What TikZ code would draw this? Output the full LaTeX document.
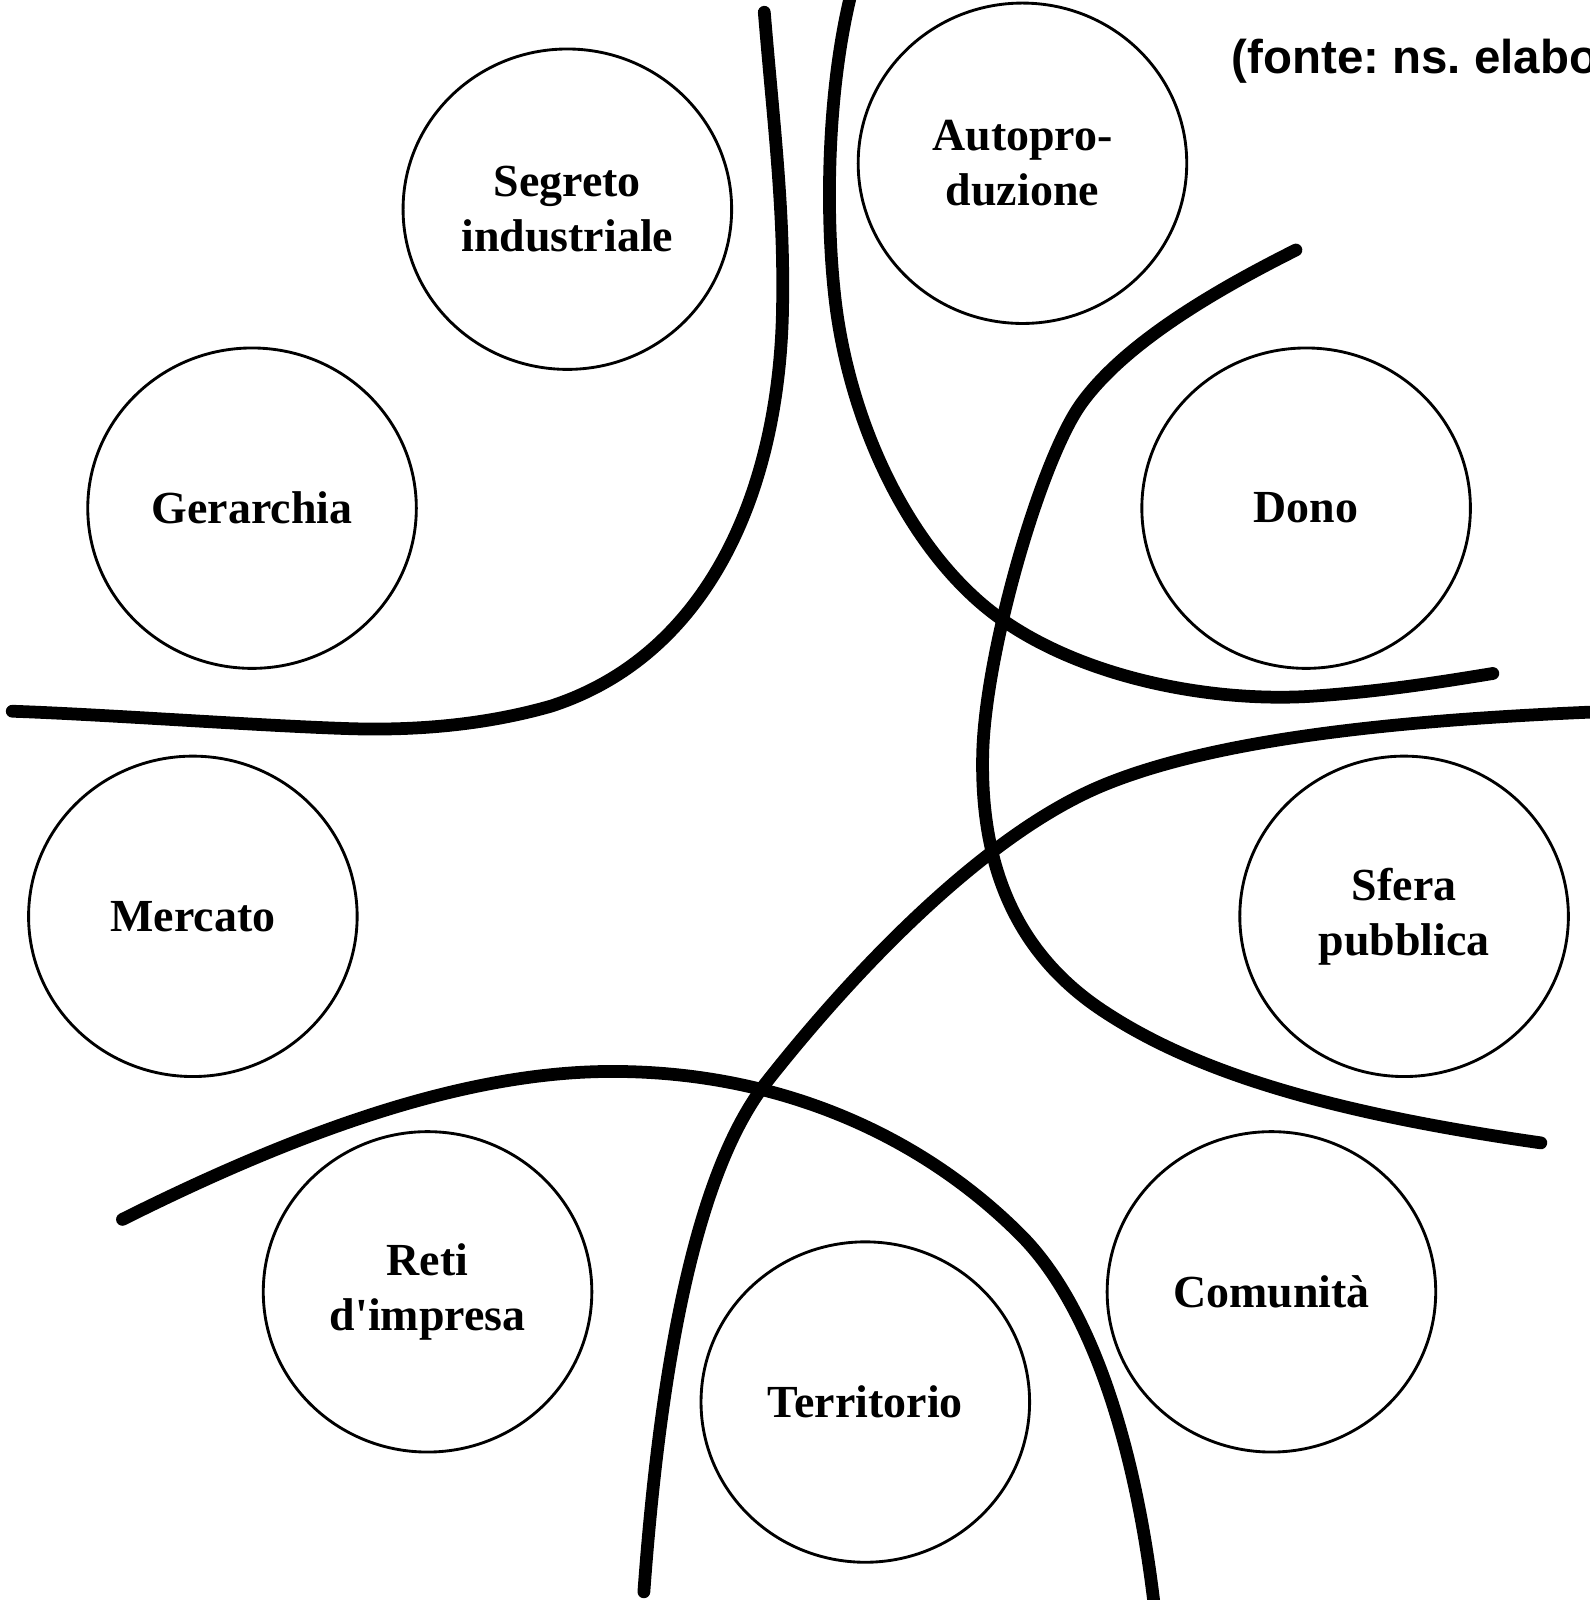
\documentclass[tikz,border=0pt]{standalone}
\usepackage{fontspec}
\setmainfont{Liberation Serif}
\newfontfamily\srcfont{Liberation Sans}
\usetikzlibrary{shapes.geometric}
\tikzset{
  area/.style={draw=black, line width=2.8pt, ellipse, minimum width=322pt, minimum height=314pt, inner sep=0pt, align=center,
    font=\fontsize{45}{54}\selectfont\bfseries},
  border/.style={draw=black, line width=12.5pt, line cap=round, line join=round},
}
\frenchspacing
\begin{document}
\begin{tikzpicture}[x=1pt, y=-1pt]
\useasboundingbox (0,0) rectangle (1558,1568);
\fill[white] (0,0) rectangle (1558,1568);
\begin{scope}
\clip (0,0) rectangle (1558,1568);
% areas
\node[area] (segreto) at (556,205) {Segreto\\industriale};
\node[area] (auto) at (1002,160) {Autopro-\\duzione};
\node[area] (gerarchia) at (247,498) {Gerarchia};
\node[area] (dono) at (1280,498) {Dono};
\node[area] (mercato) at (189,898) {Mercato};
\node[area] (sfera) at (1376,898) {Sfera\\pubblica};
\node[area] (reti) at (419,1266) {Reti\\d\textquotesingle impresa};
\node[area] (territorio) at (848,1374) {Territorio};
\node[area] (comunita) at (1246,1266) {Comunità};
% borders
\draw[border] (749,12) .. controls (758,120) and (768,200) .. (767,290)
  .. controls (767,470) and (700,640) .. (540,692)
  .. controls (470,712) and (400,716) .. (340,714)
  .. controls (250,711) and (100,700) .. (12,697);
\draw[border] (835,-10) .. controls (812,80) and (808,200) .. (818,290)
  .. controls (830,400) and (880,520) .. (960,590)
  .. controls (1040,660) and (1180,690) .. (1290,682)
  .. controls (1360,677) and (1420,667) .. (1463,660);
\draw[border] (1270,245) .. controls (1180,290) and (1100,340) .. (1060,395)
  .. controls (1020,450) and (965,640) .. (963,740)
  .. controls (961,840) and (990,930) .. (1080,990)
  .. controls (1170,1050) and (1300,1090) .. (1510,1120);
\draw[border] (1580,697) .. controls (1400,704) and (1200,720) .. (1080,770)
  .. controls (960,820) and (830,960) .. (750,1062)
  .. controls (690,1140) and (650,1300) .. (631,1560);
\draw[border] (120,1195) .. controls (300,1105) and (460,1050) .. (600,1050)
  .. controls (760,1050) and (900,1110) .. (1000,1210)
  .. controls (1070,1280) and (1115,1420) .. (1133,1590);
% source
\node[anchor=base west, inner sep=0pt, font=\srcfont\fontsize{46.5}{54}\selectfont\bfseries] (fonte) at (1207,72) {(fonte: ns. elaborazione)};
\end{scope}
\end{tikzpicture}
\end{document}
